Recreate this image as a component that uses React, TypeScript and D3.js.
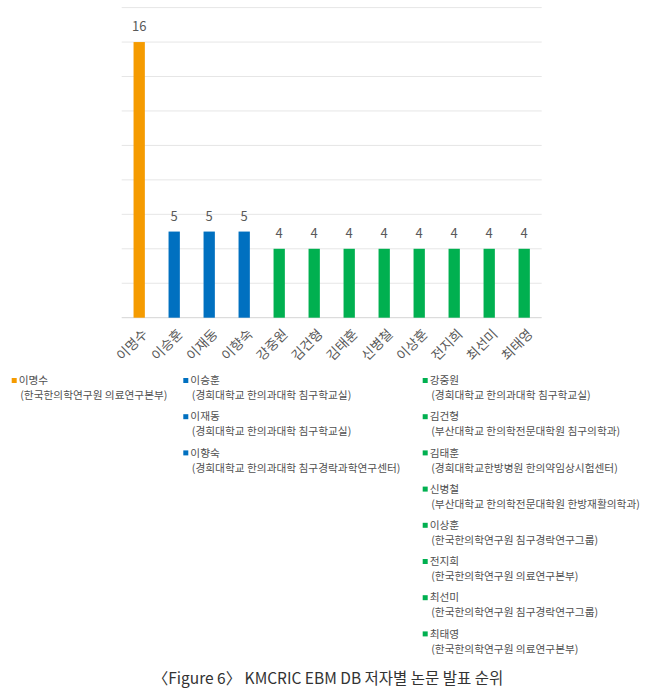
import { useEffect, useRef } from "react";
import * as d3 from "d3";

// authors in ranking order
const authors = ["이명수", "이승훈", "이재동", "이향숙", "강중원", "김건형", "김태훈", "신병철", "이상훈", "전지희", "최선미", "최태영"];
const papers = [16, 5, 5, 5, 4, 4, 4, 4, 4, 4, 4, 4];
const affiliations = [
  "(한국한의학연구원 의료연구본부)",
  "(경희대학교 한의과대학 침구학교실)",
  "(경희대학교 한의과대학 침구학교실)",
  "(경희대학교 한의과대학 침구경락과학연구센터)",
  "(경희대학교 한의과대학 침구학교실)",
  "(부산대학교 한의학전문대학원 침구의학과)",
  "(경희대학교한방병원 한의약임상시험센터)",
  "(부산대학교 한의학전문대학원 한방재활의학과)",
  "(한국한의학연구원 침구경락연구그룹)",
  "(한국한의학연구원 의료연구본부)",
  "(한국한의학연구원 침구경락연구그룹)",
  "(한국한의학연구원 의료연구본부)",
];
const groups = [0, 1, 1, 1, 2, 2, 2, 2, 2, 2, 2, 2];
const groupColors = ["#F59B00", "#0070C0", "#00B050"];
const caption = "〈Figure 6〉 KMCRIC EBM DB 저자별 논문 발표 순위";

const W = 650;
const H = 691;
const FONT = "'Noto Sans CJK KR', 'Noto Sans', sans-serif";

export default function App() {
  const ref = useRef<SVGSVGElement | null>(null);

  useEffect(() => {
    const svg = d3.select(ref.current);
    svg.selectAll("*").remove();

    const x = d3.scaleBand<string>()
      .domain(authors)
      .range([121.7, 541.7])
      .paddingInner(0.677)
      .paddingOuter(0.3385);
    const y = d3.scaleLinear().domain([0, 18]).range([317.7, 7.6]);

    // gridlines
    svg.append("g")
      .selectAll("line")
      .data(y.ticks(10))
      .enter()
      .append("line")
      .attr("x1", 121.7)
      .attr("x2", 541.7)
      .attr("y1", d => y(d))
      .attr("y2", d => y(d))
      .attr("stroke", d => d === 0 ? "#d4d4d4" : "#e6e6e6")
      .attr("stroke-width", 1);

    // bars
    svg.append("g")
      .selectAll("rect")
      .data(authors)
      .enter()
      .append("rect")
      .attr("x", d => x(d)!)
      .attr("width", x.bandwidth())
      .attr("y", (_, i) => y(papers[i]))
      .attr("height", (_, i) => y(0) - y(papers[i]))
      .attr("fill", (_, i) => groupColors[groups[i]]);

    // value labels
    svg.append("g")
      .selectAll("text")
      .data(authors)
      .enter()
      .append("text")
      .attr("x", d => x(d)! + x.bandwidth() / 2)
      .attr("y", (_, i) => y(papers[i]) - 11)
      .attr("text-anchor", "middle")
      .style("font-family", FONT)
      .style("font-size", "13px")
      .style("fill", "#595959")
      .text((_, i) => papers[i]);

    // x labels
    svg.append("g")
      .selectAll("text")
      .data(authors)
      .enter()
      .append("text")
      .attr("transform", d => `translate(${x(d)! + x.bandwidth() / 2 + 6},${y(0) + 14}) rotate(-45)`)
      .attr("text-anchor", "end")
      .attr("dy", "0.35em")
      .style("font-family", FONT)
      .style("font-size", "13.5px")
      .style("fill", "#595959")
      .text(d => d);

    // legend
    const columns = [[0], [1, 2, 3], [4, 5, 6, 7, 8, 9, 10, 11]];
    const colX = [11.7, 183.3, 422.7];
    const legend = svg.append("g");
    columns.forEach((col, c) => {
      col.forEach((idx, r) => {
        const g = legend.append("g")
          .attr("transform", `translate(${colX[c]},${380.5 + r * 36.2})`);
        g.append("rect")
          .attr("x", 0)
          .attr("y", -2.5)
          .attr("width", 5)
          .attr("height", 5)
          .attr("fill", groupColors[groups[idx]]);
        g.append("text")
          .attr("x", 7)
          .attr("dy", "0.35em")
          .style("font-family", FONT)
          .style("font-size", "10.7px")
          .style("fill", "#505050")
          .text(authors[idx]);
        g.append("text")
          .attr("x", 8.5)
          .attr("y", 15)
          .attr("dy", "0.35em")
          .style("font-family", FONT)
          .style("font-size", "10.7px")
          .style("fill", "#505050")
          .text(affiliations[idx]);
      });
    });

    // caption
    svg.append("text")
      .attr("x", 328)
      .attr("y", 684)
      .attr("text-anchor", "middle")
      .style("font-family", FONT)
      .style("font-size", "15.5px")
      .style("fill", "#333")
      .text(caption);
  }, []);

  return (
    <svg
      ref={ref}
      width={W}
      height={H}
      style={{ position: "absolute", left: 0, top: 0, background: "#fff" }}
    />
  );
}
